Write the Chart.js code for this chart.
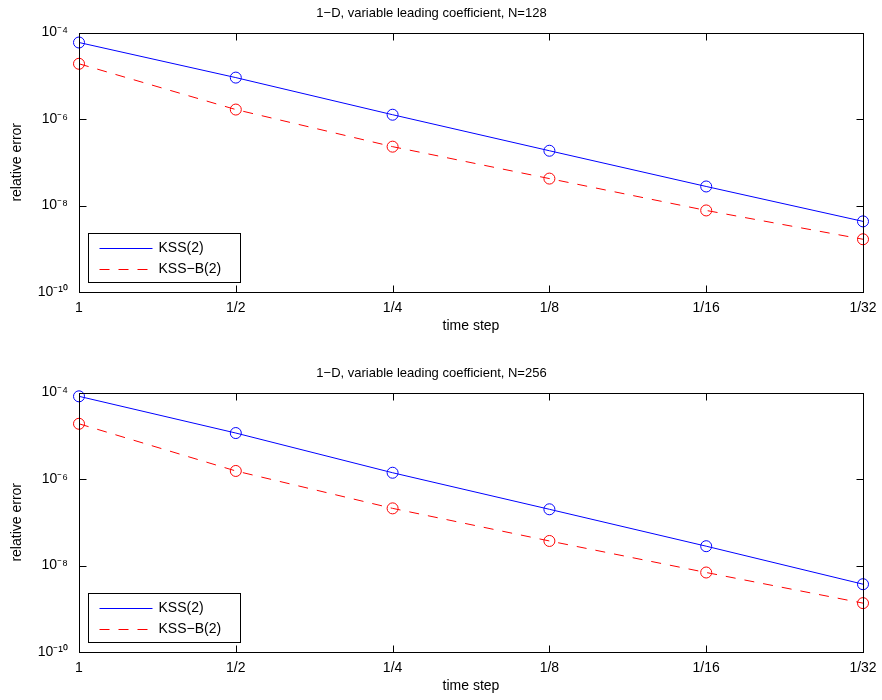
<!DOCTYPE html>
<html>
<head>
<meta charset="utf-8">
<script src="https://cdn.jsdelivr.net/npm/chart.js@4/dist/chart.umd.min.js"></script>
<style>
body { margin: 0; background: #fff; }
#wrap { position: relative; width: 882px; height: 700px; }
canvas { position: absolute; left: 0; }
#c1 { top: 0; }
#c2 { top: 360px; }
</style>
</head>
<body>
<div id="wrap">
<canvas id="c1" width="882" height="340" style="width:882px;height:340px"></canvas>
<canvas id="c2" width="882" height="340" style="width:882px;height:340px"></canvas>
</div>
<script>
"use strict";
// data
const steps = ["1", "1/2", "1/4", "1/8", "1/16", "1/32"];
const yTicks = [1e-10, 1e-8, 1e-6, 1e-4];
const kss128 = [5.9e-5, 9.1e-6, 1.26e-6, 1.85e-7, 2.76e-8, 4.3e-9];
const kssB128 = [1.9e-5, 1.66e-6, 2.3e-7, 4.2e-8, 7.7e-9, 1.66e-9];
const kss256 = [8.2e-5, 1.16e-5, 1.4e-6, 2.0e-7, 2.8e-8, 3.7e-9];
const kssB256 = [1.9e-5, 1.54e-6, 2.1e-7, 3.7e-8, 6.9e-9, 1.35e-9];

const FONT = "'Liberation Sans', Arial, Helvetica, sans-serif";
const SUP = { "-": "\u207B", "0": "\u2070", "1": "\u00B9", "2": "\u00B2", "3": "\u00B3", "4": "\u2074", "5": "\u2075", "6": "\u2076", "7": "\u2077", "8": "\u2078", "9": "\u2079" };

function sup(v)
{
    let e = Math.round(Math.log10(v));
    return "10" + String(e).split("").map(c => SUP[c]).join("");
}

// box round the axes with inward ticks, like matlab
const frame = {
    id: "frame",
    afterDatasetsDraw(chart)
    {
        let { ctx, chartArea: a, scales: { x, y } } = chart;
        let l = Math.round(a.left) + 0.5, r = Math.round(a.right) + 0.5;
        let t = Math.round(a.top) + 0.5, b = Math.round(a.bottom) + 0.5;
        ctx.save();
        ctx.strokeStyle = "#000";
        ctx.lineWidth = 1;
        ctx.strokeRect(l, t, r - l, b - t);
        ctx.beginPath();
        for (let i = 0; i < steps.length; i++) {
            let px = Math.round(x.getPixelForTick(i)) + 0.5;
            ctx.moveTo(px, b); ctx.lineTo(px, b - 7);
            ctx.moveTo(px, t); ctx.lineTo(px, t + 7);
        }
        for (let v of yTicks) {
            let py = Math.round(y.getPixelForValue(v)) + 0.5;
            ctx.moveTo(l, py); ctx.lineTo(l + 7, py);
            ctx.moveTo(r, py); ctx.lineTo(r - 7, py);
        }
        ctx.stroke();
        ctx.restore();
    }
};

// legend box in the lower left corner of the axes
const boxLegend = {
    id: "boxLegend",
    afterDraw(chart)
    {
        let { ctx, chartArea: a } = chart;
        let bx = Math.round(a.left) + 9.5, w = 152, h = 49;
        let by = Math.round(a.bottom) - 9.5 - h;
        ctx.save();
        ctx.fillStyle = "#fff";
        ctx.fillRect(bx, by, w, h);
        ctx.strokeStyle = "#000";
        ctx.lineWidth = 1;
        ctx.strokeRect(bx, by, w, h);
        ctx.font = "14px " + FONT;
        ctx.textBaseline = "middle";
        ctx.fillStyle = "#000";
        chart.data.datasets.forEach((ds, i) => {
            let yy = Math.round(by + 14 + i * 21) + 0.5;
            ctx.strokeStyle = ds.borderColor;
            ctx.setLineDash(ds.borderDash || []);
            ctx.beginPath();
            ctx.moveTo(bx + 11, yy);
            ctx.lineTo(bx + 64, yy);
            ctx.stroke();
            ctx.setLineDash([]);
            ctx.fillText(ds.label, bx + 70, yy);
        });
        ctx.restore();
    }
};

function series(label, data, color, dash)
{
    return {
        label: label,
        data: data,
        borderColor: color,
        backgroundColor: "rgba(0,0,0,0)",
        borderWidth: 1,
        borderDash: dash,
        pointRadius: 5.5,
        pointBorderWidth: 1,
        pointBorderColor: color,
        pointBackgroundColor: "rgba(0,0,0,0)",
        pointStyle: "circle",
        tension: 0,
        clip: false,
    };
}

function makeChart(canvas, title, a, b)
{
    let opts = {
        type: "line",
        data: {
            labels: steps,
            datasets: [
                series("KSS(2)", a, "#0000ff", []),
                series("KSS\u2212B(2)", b, "#ff0000", [10, 9]),
            ],
        },
        options: {
            responsive: false,
            animation: false,
            layout: { padding: { left: 0, right: 19, top: 0, bottom: 5 } },
            plugins: {
                legend: { display: false },
                tooltip: { enabled: false },
                title: {
                    display: true,
                    text: title,
                    color: "#000",
                    font: { family: FONT, size: 13, weight: "normal" },
                    padding: { top: 6, bottom: 11 },
                },
            },
            scales: {
                x: {
                    type: "category",
                    offset: false,
                    afterFit: s => { s.height = 43; s.paddingLeft = 0; s.paddingRight = 0; },
                    grid: { display: false, drawTicks: false },
                    border: { display: false },
                    ticks: { color: "#000", padding: 8, maxRotation: 0, autoSkip: false, font: { family: FONT, size: 14 } },
                    title: { display: true, text: "time step", color: "#000", font: { family: FONT, size: 14 }, padding: { top: 3, bottom: 0 } },
                },
                y: {
                    type: "logarithmic",
                    min: 1e-10,
                    max: 1e-4,
                    afterBuildTicks: s => { s.ticks = yTicks.map(v => ({ value: v })); },
                    afterFit: s => { s.width = 79; },
                    grid: { display: false, drawTicks: false },
                    border: { display: false },
                    ticks: { color: "#000", padding: 11, font: { family: FONT, size: 14 }, callback: v => sup(v) },
                    title: { display: true, text: "relative error", color: "#000", font: { family: FONT, size: 14 }, padding: { top: 9, bottom: 0 } },
                },
            },
        },
        plugins: [frame, boxLegend],
    };
    return new Chart(canvas, opts);
}

makeChart(document.querySelector("#c1"), "1\u2212D, variable leading coefficient, N=128", kss128, kssB128);
makeChart(document.querySelector("#c2"), "1\u2212D, variable leading coefficient, N=256", kss256, kssB256);
</script>
</body>
</html>
